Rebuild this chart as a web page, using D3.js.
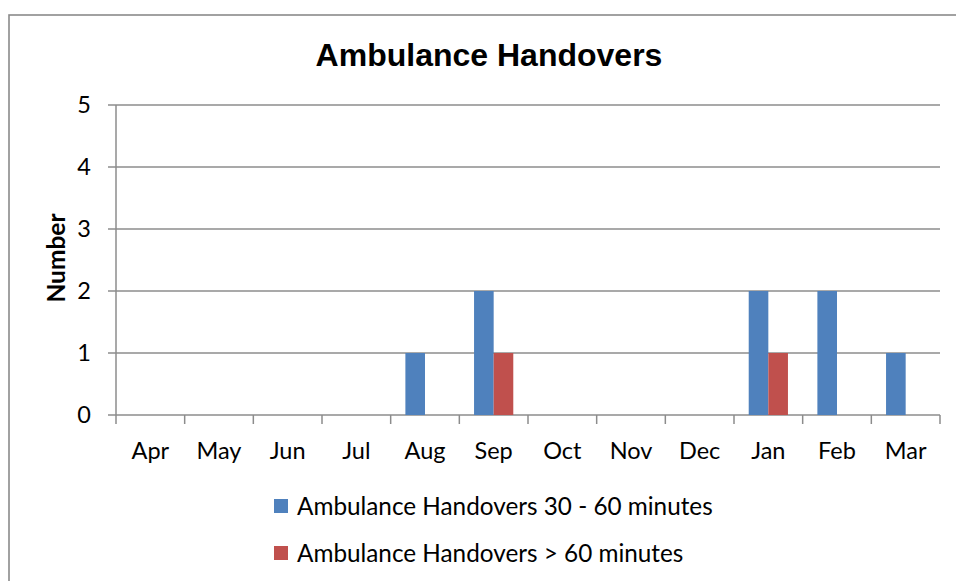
<!DOCTYPE html>
<html>
<head>
<script src="https://d3js.org/d3.v7.min.js"></script>
<style>
  body { margin: 0; background: #fff; }
  text { fill: #000; }
</style>
</head>
<body>
<script>
const WIDTH = 956;
const HEIGHT = 581;

const MONTHS = ['Apr', 'May', 'Jun', 'Jul', 'Aug', 'Sep', 'Oct', 'Nov', 'Dec', 'Jan', 'Feb', 'Mar'];
const HANDOVERS_30_60 = [0, 0, 0, 0, 1, 2, 0, 0, 0, 2, 2, 1];
const HANDOVERS_OVER_60 = [0, 0, 0, 0, 0, 1, 0, 0, 0, 1, 0, 0];
const SERIES_NAMES = ['Ambulance Handovers 30 - 60 minutes', 'Ambulance Handovers > 60 minutes'];
const Y_TICKS = [0, 1, 2, 3, 4, 5];

const COLORS = ['#4F81BD', '#C0504D'];
const GRID_COLOR = '#8c8c8c';
const LABEL_FONT = 'Lato, "Open Sans", sans-serif';
const LABEL_SIZE = '23.5px';
const LEGEND_SIZE = '24.3px';

const PLOT = { left: 116, right: 940, top: 105, bottom: 415 };

let svg = d3.select('body').append('svg')
  .attr('width', WIDTH)
  .attr('height', HEIGHT);

// outer chart border (runs off the right/bottom edges)
svg.append('rect')
  .attr('x', 9).attr('y', 15)
  .attr('width', 960).attr('height', 600)
  .attr('fill', 'none')
  .attr('stroke', '#8a8a8a')
  .attr('stroke-width', 1.6);

let x = d3.scaleBand()
  .domain(MONTHS)
  .range([PLOT.left, PLOT.right]);

let yScale = d3.scaleLinear()
  .domain([0, 5])
  .range([PLOT.bottom, PLOT.top]);

// excel-style: gap width 150%
let barW = x.bandwidth() / 3.5;

// gridlines
svg.append('g')
  .selectAll('line')
  .data(Y_TICKS)
  .enter().append('line')
  .attr('x1', PLOT.left - 8)
  .attr('x2', PLOT.right)
  .attr('y1', d => yScale(d))
  .attr('y2', d => yScale(d))
  .attr('stroke', GRID_COLOR)
  .attr('stroke-width', 1.5);

// y axis line
svg.append('line')
  .attr('x1', PLOT.left).attr('x2', PLOT.left)
  .attr('y1', PLOT.top).attr('y2', PLOT.bottom)
  .attr('stroke', GRID_COLOR)
  .attr('stroke-width', 1.5);

// y tick labels
svg.append('g')
  .selectAll('text')
  .data(Y_TICKS)
  .enter().append('text')
  .attr('x', PLOT.left - 25)
  .attr('y', d => yScale(d))
  .attr('dy', '0.35em')
  .attr('text-anchor', 'end')
  .style('font-family', LABEL_FONT)
  .style('font-size', LABEL_SIZE)
  .text(d => d);

// x category ticks at band boundaries
let boundaries = MONTHS.map(m => x(m)).concat([PLOT.right]);
svg.append('g')
  .selectAll('line')
  .data(boundaries)
  .enter().append('line')
  .attr('x1', d => d).attr('x2', d => d)
  .attr('y1', PLOT.bottom).attr('y2', PLOT.bottom + 9)
  .attr('stroke', GRID_COLOR)
  .attr('stroke-width', 1.5);

// x labels
svg.append('g')
  .selectAll('text')
  .data(MONTHS)
  .enter().append('text')
  .attr('x', d => x(d) + x.bandwidth() / 2)
  .attr('y', 459)
  .attr('text-anchor', 'middle')
  .style('font-family', LABEL_FONT)
  .style('font-size', LABEL_SIZE)
  .text(d => d);

// bars
[HANDOVERS_30_60, HANDOVERS_OVER_60].forEach(function(values, s) {
  svg.append('g')
    .selectAll('rect')
    .data(values.map((v, i) => ({ month: MONTHS[i], value: v })))
    .enter().append('rect')
    .attr('x', d => x(d.month) + x.bandwidth() / 2 - barW + s * barW)
    .attr('y', d => yScale(d.value))
    .attr('width', barW)
    .attr('height', d => yScale(0) - yScale(d.value))
    .attr('fill', COLORS[s]);
});

// title
svg.append('text')
  .attr('x', 489).attr('y', 66)
  .attr('text-anchor', 'middle')
  .style('font-family', '"Liberation Sans", Arial, sans-serif')
  .style('font-weight', 'bold')
  .style('font-size', '32px')
  .text('Ambulance Handovers');

// y axis title
svg.append('text')
  .attr('transform', 'translate(65,258) rotate(-90)')
  .attr('text-anchor', 'middle')
  .style('font-family', LABEL_FONT)
  .style('font-weight', 'bold')
  .style('font-size', '24.5px')
  .text('Number');

// legend
let legend = svg.append('g')
  .selectAll('g')
  .data(SERIES_NAMES)
  .enter().append('g')
  .attr('transform', (d, i) => 'translate(274,' + (506 + i * 47) + ')');

legend.append('rect')
  .attr('x', 0).attr('y', -7)
  .attr('width', 14).attr('height', 14)
  .attr('fill', (d, i) => COLORS[i]);

legend.append('text')
  .attr('x', 23).attr('y', 0)
  .attr('dy', '0.35em')
  .style('font-family', LABEL_FONT)
  .style('font-size', LEGEND_SIZE)
  .text(d => d);
</script>
</body>
</html>
